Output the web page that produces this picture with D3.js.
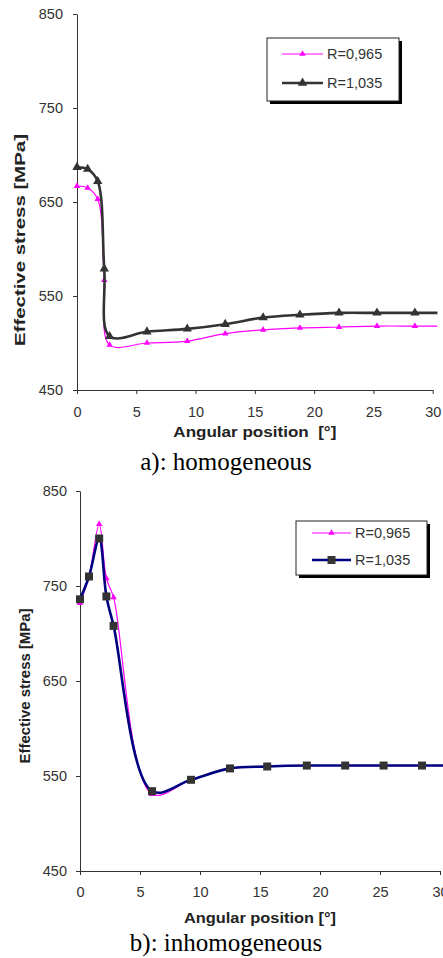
<!DOCTYPE html>
<html>
<head>
<meta charset="utf-8">
<script src="https://d3js.org/d3.v7.min.js"></script>
<style>
  body { margin: 0; background: #fff; }
  svg { display: block; }
  .tick text { font-family: "Liberation Sans", Arial, sans-serif; font-size: 14.5px; fill: #333; }
  .tick line, .domain { stroke: #333; }
</style>
</head>
<body>
<svg width="443" height="958"></svg>
<script>
// angular positions (deg) of the computed points
const xA = [0, 0.9, 1.75, 2.3, 2.75, 5.9, 9.3, 12.5, 15.7, 18.8, 22.1, 25.3, 28.5, 30.4];
const xB = [0, 0.75, 1.6, 2.2, 2.8, 6, 9.25, 12.5, 15.6, 18.9, 22.1, 25.3, 28.5, 30.3];

// a) homogeneous
const homLow  = [667, 665, 653, 567, 498, 500, 502, 510, 514, 516, 517, 518, 518, 518];
const homHigh = [687, 685, 672, 579, 507, 512, 515, 520, 527, 530, 532, 532, 532, 532];
// b) inhomogeneous
const inhLow  = [732, 760, 815, 758, 738, 531, 546, 558, 560, 561, 561, 561, 561, 561];
const inhHigh = [736, 760, 800, 739, 708, 534, 546, 558, 560, 561, 561, 561, 561, 561];

const seriesNames = ["R=0,965", "R=1,035"];
const yTicks = [450, 550, 650, 750, 850];
const xTicks = [0, 5, 10, 15, 20, 25, 30];

const svg = d3.select("svg");

function panel(o) {
  const x = d3.scaleLinear().domain([0, 30]).range([o.left, o.right]);
  const y = d3.scaleLinear().domain([450, 850]).range([o.bottom, o.top]);

  svg.append("g")
    .attr("transform", `translate(0,${o.bottom})`)
    .call(d3.axisBottom(x).tickValues(xTicks).tickSize(4).tickSizeOuter(0).tickPadding(o.xPad));
  svg.append("g")
    .attr("transform", `translate(${o.left},0)`)
    .call(d3.axisLeft(y).tickValues(yTicks).tickSize(4).tickSizeOuter(0).tickPadding(o.yPad));

  // axis titles
  svg.append("text")
    .attr("x", (o.left + o.right) / 2).attr("y", o.xTitleY)
    .attr("text-anchor", "middle")
    .attr("textLength", o.xTitleLen).attr("lengthAdjust", "spacingAndGlyphs")
    .style("font", "bold 14px 'Liberation Sans', Arial, sans-serif").style("fill", "#222")
    .style("white-space", "pre")
    .text(o.xTitle);
  svg.append("text")
    .attr("transform", `translate(${o.yTitleX},${o.yTitleY}) rotate(-90)`)
    .attr("text-anchor", "middle")
    .attr("textLength", o.yTitleLen).attr("lengthAdjust", "spacingAndGlyphs")
    .style("font", "bold 14px 'Liberation Sans', Arial, sans-serif").style("fill", "#222")
    .text("Effective stress [MPa]");

  const line = d3.line()
    .x((d, i) => x(o.xs[i])).y(d => y(d))
    .curve(d3.curveCatmullRom.alpha(0.5));

  o.series.forEach(s => {
    svg.append("path").datum(s.values)
      .attr("d", line).attr("fill", "none")
      .attr("stroke", s.stroke).attr("stroke-width", s.width);
    // no marker on the final (edge) point
    svg.append("g").selectAll("path")
      .data(s.values.slice(0, -1))
      .join("path")
      .attr("transform", (d, i) => `translate(${x(o.xs[i])},${y(d)})`)
      .attr("d", d3.symbol().type(s.symbol).size(s.size))
      .attr("fill", s.fill);
  });

  // legend
  const lg = o.legend;
  svg.append("rect").attr("x", lg.x + 3).attr("y", lg.y + 3)
    .attr("width", lg.w).attr("height", lg.h).attr("fill", "#000");
  svg.append("rect").attr("x", lg.x).attr("y", lg.y)
    .attr("width", lg.w).attr("height", lg.h)
    .attr("fill", "#fff").attr("stroke", "#222").attr("stroke-width", 1);
  o.series.forEach((s, i) => {
    const ly = lg.rows[i];
    svg.append("line")
      .attr("x1", lg.x1).attr("x2", lg.x2).attr("y1", ly).attr("y2", ly)
      .attr("stroke", s.stroke).attr("stroke-width", s.width);
    svg.append("path")
      .attr("transform", `translate(${(lg.x1 + lg.x2) / 2},${ly})`)
      .attr("d", d3.symbol().type(s.symbol).size(s.size))
      .attr("fill", s.fill);
    svg.append("text")
      .attr("x", lg.x2 + 4).attr("y", ly + 5)
      .style("font", "14.5px 'Liberation Sans', Arial, sans-serif").style("fill", "#333")
      .text(seriesNames[i]);
  });

  // caption
  svg.append("text")
    .attr("x", 226).attr("y", o.captionY)
    .attr("text-anchor", "middle")
    .style("font", "25px 'Liberation Serif', 'Times New Roman', serif").style("fill", "#000")
    .text(o.caption);
}

panel({
  left: 77, right: 432.7, top: 14, bottom: 390, xPad: 13, yPad: 10,
  xs: xA,
  xTitle: "Angular position  [°]", xTitleY: 437, xTitleLen: 163,
  yTitleX: 25, yTitleY: 240, yTitleLen: 212,
  series: [
    { values: homLow, stroke: "#ff00ff", width: 1.2, symbol: d3.symbolTriangle, size: 18, fill: "#ff00ff" },
    { values: homHigh, stroke: "#333", width: 2.6, symbol: d3.symbolTriangle, size: 38, fill: "#333" }
  ],
  legend: { x: 267, y: 38, w: 132, h: 63, x1: 282, x2: 323, rows: [54, 83] },
  caption: "a): homogeneous", captionY: 470
});

panel({
  left: 80, right: 440, top: 491, bottom: 871, xPad: 12, yPad: 9,
  xs: xB,
  xTitle: "Angular position [°]", xTitleY: 923, xTitleLen: 152,
  yTitleX: 30, yTitleY: 686, yTitleLen: 155,
  series: [
    { values: inhLow, stroke: "#ff00ff", width: 1.2, symbol: d3.symbolTriangle, size: 18, fill: "#ff00ff" },
    { values: inhHigh, stroke: "#000080", width: 2.6, symbol: d3.symbolSquare, size: 64, fill: "#333" }
  ],
  legend: { x: 296, y: 521, w: 131, h: 54, x1: 312, x2: 351, rows: [533, 560] },
  caption: "b): inhomogeneous", captionY: 951
});
</script>
</body>
</html>
